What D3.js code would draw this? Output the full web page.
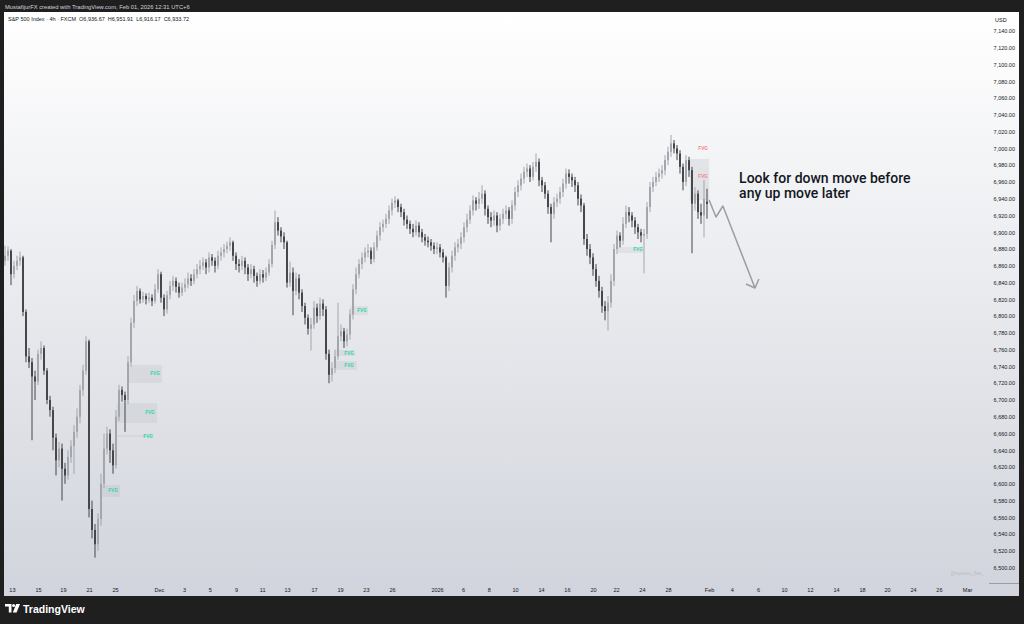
<!DOCTYPE html>
<html><head><meta charset="utf-8">
<script src="https://cdn.jsdelivr.net/npm/d3@7"></script>
<style>html,body{margin:0;padding:0;background:#1f1f1f;overflow:hidden}</style>
</head><body>
<svg id="c" width="1024" height="624"></svg>
<script>
// ---------- DATA (4h candles, S&P 500 Index, FXCM) ----------
const opens = [
6866,6872,6878,6850,6860,6866,6870,6805,6752,6745,
6728,6722,6755,6762,6735,6700,6688,6655,6628,6642,
6618,6610,6632,6645,6662,6680,6712,6735,6770,6570,
6545,6528,6558,6600,6642,6660,6640,6622,6680,6712,
6706,6700,6745,6792,6818,6830,6820,6824,6820,6822,
6818,6832,6850,6822,6808,6825,6836,6842,6835,6828,
6834,6838,6845,6842,6850,6856,6860,6864,6858,6870,
6866,6860,6872,6876,6880,6884,6888,6872,6862,6860,
6866,6858,6850,6856,6848,6842,6850,6846,6852,6862,
6885,6912,6902,6895,6888,6840,6852,6830,6845,6828,
6812,6798,6785,6790,6810,6800,6815,6808,6755,6730,
6738,6752,6776,6782,6770,6778,6802,6832,6850,6862,
6870,6876,6878,6868,6882,6896,6906,6910,6916,6926,
6935,6938,6930,6924,6915,6910,6904,6900,6908,6900,
6894,6890,6888,6884,6880,6882,6876,6870,6836,6858,
6872,6882,6886,6894,6906,6915,6926,6938,6934,6940,
6946,6928,6918,6914,6920,6908,6916,6922,6926,6916,
6932,6948,6956,6964,6972,6976,6966,6978,6984,6962,
6956,6946,6930,6922,6936,6940,6948,6958,6970,6966,
6962,6956,6940,6932,6892,6880,6870,6856,6842,6830,
6812,6806,6816,6842,6880,6896,6890,6910,6924,6920,
6914,6906,6900,6896,6898,6930,6954,6960,6966,6970,
6974,6986,6996,7006,7000,6994,6978,6960,6986,6974,
6934,6946,6924,6920,6936.67];
const highs = [
6884,6883,6880,6866,6872,6877,6872,6808,6762,6750,
6735,6760,6770,6765,6738,6705,6692,6660,6650,6648,
6625,6640,6652,6670,6690,6718,6742,6776,6772,6580,
6552,6565,6612,6660,6668,6665,6648,6688,6718,6716,
6710,6752,6798,6825,6836,6833,6829,6827,6828,6826,
6838,6856,6853,6826,6830,6842,6848,6846,6840,6840,
6845,6852,6850,6856,6862,6867,6870,6868,6876,6874,
6870,6878,6882,6886,6889,6894,6890,6876,6868,6872,
6870,6862,6862,6860,6852,6856,6855,6858,6868,6890,
6926,6918,6906,6900,6890,6865,6858,6852,6850,6832,
6816,6802,6798,6818,6815,6822,6820,6812,6760,6745,
6760,6816,6790,6786,6785,6808,6838,6858,6868,6876,
6882,6886,6882,6888,6902,6912,6915,6922,6932,6940,
6943,6940,6934,6928,6920,6914,6910,6914,6912,6904,
6898,6895,6892,6888,6888,6886,6880,6872,6864,6878,
6888,6892,6900,6912,6922,6932,6944,6942,6948,6956,
6950,6932,6924,6926,6924,6922,6928,6932,6930,6938,
6954,6962,6970,6978,6982,6980,6984,6994,6988,6966,
6960,6950,6934,6942,6946,6954,6964,6976,6975,6970,
6966,6960,6945,6935,6898,6886,6875,6862,6848,6835,
6818,6824,6850,6886,6902,6900,6918,6932,6930,6924,
6918,6910,6904,6904,6936,6960,6966,6972,6976,6980,
6992,7002,7016,7010,7004,6998,6982,6992,6990,6978,
6954,6950,6934,6962,6951.91];
const lows = [
6860,6866,6837,6845,6855,6860,6800,6745,6738,6652,
6700,6718,6748,6730,6695,6680,6640,6610,6620,6580,
6600,6605,6625,6612,6655,6672,6705,6730,6560,6535,
6512,6520,6550,6595,6635,6625,6612,6618,6675,6698,
6662,6695,6740,6786,6812,6815,6816,6814,6816,6812,
6815,6828,6816,6800,6803,6820,6830,6828,6822,6824,
6829,6833,6836,6838,6845,6850,6855,6850,6852,6860,
6852,6856,6866,6870,6875,6878,6866,6855,6852,6855,
6850,6842,6845,6840,6835,6838,6840,6842,6848,6858,
6880,6896,6888,6880,6834,6835,6801,6825,6820,6805,
6790,6778,6759,6785,6792,6795,6800,6748,6720,6722,
6732,6748,6770,6762,6764,6772,6796,6826,6845,6856,
6864,6870,6862,6864,6878,6890,6900,6905,6910,6920,
6929,6924,6918,6908,6904,6898,6894,6896,6894,6888,
6884,6882,6878,6874,6874,6870,6864,6822,6830,6852,
6866,6876,6880,6888,6900,6910,6920,6926,6928,6934,
6920,6910,6906,6908,6900,6902,6910,6916,6908,6910,
6926,6942,6950,6958,6966,6960,6962,6972,6955,6948,
6940,6922,6888,6916,6930,6934,6942,6952,6958,6954,
6948,6932,6924,6885,6872,6862,6848,6835,6822,6804,
6795,6783,6810,6836,6874,6882,6885,6905,6912,6906,
6898,6892,6888,6851,6892,6924,6948,6955,6960,6964,
6968,6980,6990,6994,6986,6970,6950,6955,6966,6875,
6926,6916,6910,6894,6916.17];
const closes = [
6872,6878,6850,6860,6866,6870,6805,6752,6745,6728,
6722,6755,6762,6735,6700,6688,6655,6628,6642,6618,
6610,6632,6645,6662,6680,6712,6735,6770,6570,6545,
6528,6558,6600,6642,6660,6640,6622,6680,6712,6706,
6700,6745,6792,6818,6830,6820,6824,6820,6822,6818,
6832,6850,6822,6808,6825,6836,6842,6835,6828,6834,
6838,6845,6842,6850,6856,6860,6864,6858,6870,6866,
6860,6872,6876,6880,6884,6888,6872,6862,6860,6866,
6858,6850,6856,6848,6842,6850,6846,6852,6862,6885,
6912,6902,6895,6888,6840,6852,6830,6845,6828,6812,
6798,6785,6790,6810,6800,6815,6808,6755,6730,6738,
6752,6776,6782,6770,6778,6802,6832,6850,6862,6870,
6876,6878,6868,6882,6896,6906,6910,6916,6926,6935,
6938,6930,6924,6915,6910,6904,6900,6908,6900,6894,
6890,6888,6884,6880,6882,6876,6870,6836,6858,6872,
6882,6886,6894,6906,6915,6926,6938,6934,6940,6946,
6928,6918,6914,6920,6908,6916,6922,6926,6916,6932,
6948,6956,6964,6972,6976,6966,6978,6984,6962,6956,
6946,6930,6922,6936,6940,6948,6958,6970,6966,6962,
6956,6940,6932,6892,6880,6870,6856,6842,6830,6812,
6806,6816,6842,6880,6896,6890,6910,6924,6920,6914,
6906,6900,6896,6898,6930,6954,6960,6966,6970,6974,
6986,6996,7006,7000,6994,6978,6960,6986,6974,6934,
6946,6924,6920,6940,6933.72];

// price axis ticks
const priceTicks = d3.range(6500, 7141, 20);
// time axis labels and their bar-index positions
const timeLabels = ["13","15","19","21","25","Dec","3","5","9","11","13","17","19","23","26","2026","6","8","10","14","16","20","22","24","28","Feb","4","6","10","12","14","18","20","24","26","Mar"];
const timeIdx = [2.3,11,19.3,28,36.7,51.3,59.7,68.3,77,85.7,94,103,111.7,120.3,129,144,152.7,161.3,170,178.7,187.3,196,203.7,212.3,221,234.7,242.3,251,259.7,268.3,277,285.7,294,302.7,311.3,320.7];

// FVG zones: [idxStart, idxEnd, priceTop, priceBottom, labelIdx, labelPrice]
const fvgGreen = [
 [41,52.3,6741.7,6720.3,50,6731],
 [37.3,50.7,6696.4,6672.6,48.3,6684.5],
 [37.3,49.5,6658,6656,47.7,6657],
 [32.3,38.3,6598.6,6584.3,36,6591.5],
 [115,121,6812,6801.3,119,6806.6],
 [110,116.7,6759.6,6752.5,114.7,6756],
 [110,117.3,6746.5,6735.8,114.7,6741],
 [204.3,212.7,6882.4,6875.3,211,6879]
];
const fvgRed = [[228.3,234.7,6987.4,6938.5]];
const fvgRedLabels = [[232.7,6999.3],[232.7,6966]];

// drawn arrow (bar index, price)
const arrowPath = [[234.7,6938.5],[237,6918.2],[239.3,6931.3],[250,6833.5]];
const arrowHead = [[247,6838.3],[250,6833.5],[251.3,6844.3]];
const noteLines = ["Look for down move before","any up move later"];
const notePos = [[244.7,6964.7],[244.7,6946.8]];

const headerText = "MustafijurFX created with TradingView.com, Feb 01, 2026 12:31 UTC+6";
const legendTitle = "S&P 500 Index · 4h · FXCM";
const legendOHLC = ["O6,936.67","H6,951.91","L6,916.17","C6,933.72"];

// ---------- DRAW ----------
const svg = d3.select('#c');
const FONT = "'Liberation Sans', Arial, sans-serif";
svg.append('rect').attr('width',1024).attr('height',624).attr('fill','#1f1f1f');
const defs = svg.append('defs');
const gr = defs.append('linearGradient').attr('id','bg').attr('x1',0).attr('y1',0).attr('x2',0).attr('y2',1);
gr.append('stop').attr('offset','0%').attr('stop-color','#ffffff');
gr.append('stop').attr('offset','100%').attr('stop-color','#d1d4dc');
defs.append('clipPath').attr('id','plot').append('rect').attr('x',4).attr('y',12).attr('width',981).attr('height',571);
svg.append('rect').attr('x',4).attr('y',12).attr('width',1015).attr('height',584).attr('fill','url(#bg)');

const x = d3.scaleLinear().domain([0,234]).range([5,707]);
const y = d3.scaleLinear().domain([6500,7140]).range([567.7,31]);

const plot = svg.append('g').attr('clip-path','url(#plot)');

// FVG boxes
plot.selectAll('rect.fg').data(fvgGreen).join('rect').attr('class','fg')
  .attr('x',d=>x(d[0])).attr('width',d=>x(d[1])-x(d[0]))
  .attr('y',d=>y(d[2])).attr('height',d=>Math.max(1,y(d[3])-y(d[2])))
  .attr('fill','rgba(120,123,134,0.10)');
plot.selectAll('rect.fr').data(fvgRed).join('rect').attr('class','fr')
  .attr('x',d=>x(d[0])).attr('width',d=>x(d[1])-x(d[0]))
  .attr('y',d=>y(d[2])).attr('height',d=>y(d[3])-y(d[2]))
  .attr('fill','rgba(120,123,134,0.13)');

// candles
const idx = d3.range(closes.length);
const up = i => closes[i] >= opens[i];
const colUp = '#a4a6ad', colDn = '#45474c';
plot.selectAll('rect.wick').data(idx).join('rect').attr('class','wick')
  .attr('x',i=>x(i)-0.5).attr('width',1)
  .attr('y',i=>y(highs[i])).attr('height',i=>y(lows[i])-y(highs[i]))
  .attr('fill',i=>up(i)?colUp:colDn);
plot.selectAll('rect.body').data(idx).join('rect').attr('class','body')
  .attr('x',i=>x(i)-1).attr('width',2)
  .attr('y',i=>y(Math.max(opens[i],closes[i])))
  .attr('height',i=>Math.max(1,Math.abs(y(opens[i])-y(closes[i]))))
  .attr('fill',i=>up(i)?colUp:colDn);

// FVG labels
plot.selectAll('text.fgl').data(fvgGreen).join('text').attr('class','fgl')
  .attr('x',d=>x(d[4])).attr('y',d=>y(d[5])).attr('text-anchor','middle')
  .attr('dominant-baseline','central').attr('font-family',FONT).attr('font-size',4.6)
  .attr('font-weight','bold').attr('fill','#2ad8a0').text('FVG');
plot.selectAll('text.frl').data(fvgRedLabels).join('text').attr('class','frl')
  .attr('x',d=>x(d[0])).attr('y',d=>y(d[1])).attr('text-anchor','middle')
  .attr('dominant-baseline','central').attr('font-family',FONT).attr('font-size',4.6)
  .attr('font-weight','bold').attr('fill','#f77f88').text('FVG');

// arrow
const line = d3.line().x(d=>x(d[0])).y(d=>y(d[1]));
plot.append('path').attr('d',line(arrowPath)).attr('fill','none').attr('stroke','#9a9da6').attr('stroke-width',1.5).attr('stroke-linejoin','round');
plot.append('path').attr('d',line(arrowHead)).attr('fill','none').attr('stroke','#9a9da6').attr('stroke-width',1.5).attr('stroke-linejoin','round');

// note text
plot.selectAll('text.note').data(noteLines).join('text').attr('class','note')
  .attr('x',(d,i)=>x(notePos[i][0])).attr('y',(d,i)=>y(notePos[i][1]))
  .attr('dominant-baseline','central').attr('font-family',"Roboto, 'Liberation Sans', sans-serif").attr('font-size',14)
  .attr('font-weight',500).attr('fill','#131722').text(d=>d);

// price axis
const ya = d3.axisRight(y).tickValues(priceTicks).tickFormat(d3.format(',.2f')).tickSize(0).tickPadding(0);
const yg = svg.append('g').attr('transform','translate(1015,0)').call(ya);
yg.select('.domain').remove();
yg.selectAll('text').attr('text-anchor','end').attr('x',0).attr('dy','0.32em')
  .attr('font-family',FONT).attr('font-size',5.5).attr('fill','#131722');
svg.append('text').attr('x',995).attr('y',20).attr('dominant-baseline','central')
  .attr('font-family',FONT).attr('font-size',5.5).attr('fill','#131722').text('USD');

// time axis
const xa = d3.axisBottom(x).tickValues(timeIdx).tickFormat((d,i)=>timeLabels[i]).tickSize(0).tickPadding(0);
const xg = svg.append('g').attr('transform','translate(0,583)').call(xa);
xg.select('.domain').remove();
xg.selectAll('text').attr('y',7).attr('dy','0.32em')
  .attr('font-family',FONT).attr('font-size',5.5).attr('fill','#131722');
svg.append('line').attr('x1',989).attr('x2',1019).attr('y1',583.5).attr('y2',583.5).attr('stroke','#9a9da6').attr('stroke-width',1);

// watermark
svg.append('text').attr('x',967).attr('y',573).attr('text-anchor','middle').attr('dominant-baseline','central')
  .attr('font-family',FONT).attr('font-size',4.5).attr('fill','#b9bcc4').text('@nyosoru_5aa_');

// header
svg.append('text').attr('x',5).attr('y',6.5).attr('dominant-baseline','central')
  .attr('font-family',FONT).attr('font-size',5.8).attr('fill','#d1d4dc').text(headerText);
const lg = svg.append('text').attr('x',8).attr('y',19).attr('dominant-baseline','central')
  .attr('font-family',FONT).attr('font-size',5.5).attr('fill','#131722');
lg.append('tspan').text(legendTitle);
legendOHLC.forEach(s=>lg.append('tspan').attr('dx',3).text(s));

// footer logo
const logo = svg.append('g').attr('fill','#ffffff');
logo.append('path').attr('d','M5,604 H11.5 V612.5 H8.8 V606.6 H5 Z');
logo.append('circle').attr('cx',13.6).attr('cy',605.6).attr('r',1.5);
logo.append('path').attr('d','M16.2,604 H20 L16.6,612.5 H12.8 Z');
svg.append('text').attr('x',23).attr('y',608.5).attr('dominant-baseline','central')
  .attr('font-family',FONT).attr('font-size',10.5).attr('font-weight','bold').attr('fill','#ffffff').text('TradingView');
</script>
</body></html>
